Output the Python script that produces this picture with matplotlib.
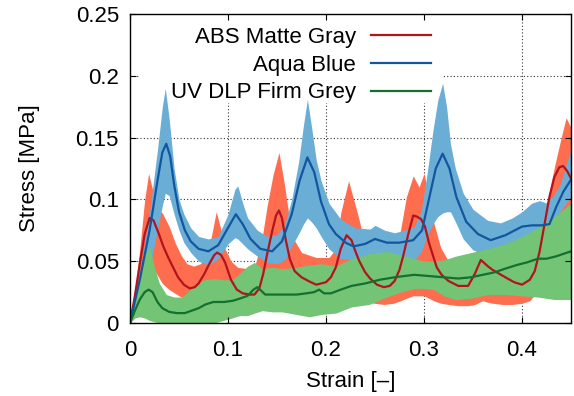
import numpy as np
import matplotlib.pyplot as plt
from matplotlib.patches import Rectangle

plt.rcParams['font.family'] = ['Liberation Sans', 'DejaVu Sans']

# ---- ABS Matte Gray (red) ----
abs_x = [0, 0.005, 0.01, 0.015, 0.02, 0.024, 0.029, 0.034, 0.039, 0.044, 0.049, 0.055,
         0.061, 0.066, 0.07, 0.076, 0.081, 0.086, 0.089, 0.093, 0.097, 0.103, 0.109,
         0.115, 0.122, 0.127, 0.132, 0.136, 0.14, 0.145, 0.149, 0.152, 0.155, 0.159,
         0.163, 0.168, 0.175, 0.182, 0.19, 0.2, 0.205, 0.21, 0.215, 0.221, 0.226, 0.23,
         0.234, 0.24, 0.245, 0.252, 0.259, 0.265, 0.27, 0.275, 0.279, 0.284, 0.289,
         0.293, 0.297, 0.301, 0.305, 0.309, 0.313, 0.318, 0.325, 0.335, 0.345, 0.352,
         0.358, 0.365, 0.37, 0.383, 0.392, 0.4, 0.408, 0.413, 0.418, 0.423, 0.428,
         0.433, 0.438, 0.442, 0.446, 0.45]
abs_mean = [0, 0.022, 0.048, 0.072, 0.085, 0.083, 0.073, 0.062, 0.053, 0.045, 0.037, 0.031,
            0.028, 0.029, 0.032, 0.04, 0.048, 0.055, 0.057, 0.055, 0.049, 0.035, 0.027,
            0.024, 0.023, 0.023, 0.028, 0.04, 0.056, 0.074, 0.087, 0.091, 0.085, 0.067,
            0.052, 0.042, 0.037, 0.034, 0.031, 0.033, 0.037, 0.045, 0.06, 0.071, 0.067, 0.058,
            0.05, 0.041, 0.036, 0.031, 0.029, 0.03, 0.034, 0.043, 0.055, 0.072, 0.087,
            0.086, 0.084, 0.078, 0.065, 0.055, 0.045, 0.039, 0.034, 0.03, 0.03, 0.04,
            0.051, 0.046, 0.043, 0.037, 0.033, 0.031, 0.035, 0.042, 0.058, 0.08, 0.102,
            0.118, 0.126, 0.127, 0.123, 0.117]
abs_bx = [0, 0.005, 0.01, 0.015, 0.019, 0.023, 0.027, 0.033, 0.04, 0.046, 0.052, 0.058,
          0.065, 0.072, 0.078, 0.083, 0.088, 0.092, 0.097, 0.103, 0.11, 0.12, 0.128,
          0.134, 0.14, 0.146, 0.152, 0.157, 0.162, 0.167, 0.175, 0.19, 0.203, 0.21,
          0.215, 0.223, 0.232, 0.239, 0.249, 0.259, 0.269, 0.276, 0.282, 0.289, 0.295,
          0.3, 0.305, 0.31, 0.317, 0.325, 0.335, 0.345, 0.352, 0.357, 0.36, 0.364, 0.37,
          0.38, 0.39, 0.4, 0.408, 0.415, 0.42, 0.426, 0.433, 0.44, 0.445, 0.45]
abs_lo = [0, 0.008, 0.02, 0.035, 0.045, 0.045, 0.04, 0.032, 0.027, 0.024, 0.021, 0.02,
          0.02, 0.02, 0.022, 0.025, 0.027, 0.026, 0.022, 0.018, 0.015, 0.014, 0.015,
          0.018, 0.022, 0.027, 0.03, 0.027, 0.022, 0.019, 0.017, 0.015, 0.016, 0.018,
          0.02, 0.022, 0.02, 0.018, 0.016, 0.015, 0.016, 0.018, 0.02, 0.022, 0.022,
          0.022, 0.02, 0.018, 0.016, 0.015, 0.014, 0.014, 0.015, 0.017, 0.018, 0.017, 0.016,
          0.015, 0.015, 0.016, 0.018, 0.025, 0.035, 0.05, 0.07, 0.085, 0.09, 0.09]
abs_hi = [0, 0.025, 0.06, 0.1, 0.121, 0.108, 0.093, 0.089, 0.078, 0.065, 0.055, 0.048,
          0.046, 0.048, 0.055, 0.07, 0.09, 0.078, 0.06, 0.05, 0.045, 0.044, 0.048,
          0.065, 0.095, 0.12, 0.138, 0.115, 0.088, 0.068, 0.057, 0.053, 0.053, 0.06,
          0.089, 0.115, 0.089, 0.067, 0.051, 0.048, 0.053, 0.075, 0.102, 0.119, 0.11,
          0.121, 0.102, 0.081, 0.061, 0.05, 0.045, 0.045, 0.055, 0.075, 0.086, 0.075, 0.06,
          0.053, 0.05, 0.05, 0.055, 0.075, 0.09, 0.099, 0.126, 0.15, 0.166, 0.158]

# ---- Aqua Blue (blue) ----
aqua_x = [0, 0.01, 0.02, 0.028, 0.033, 0.037, 0.041, 0.045, 0.05, 0.056, 0.062, 0.07,
          0.08, 0.09, 0.1, 0.108, 0.115, 0.123, 0.133, 0.145, 0.155, 0.165, 0.173,
          0.181, 0.188, 0.195, 0.203, 0.21, 0.22, 0.228, 0.24, 0.25, 0.262, 0.275,
          0.289, 0.298, 0.305, 0.312, 0.319, 0.326, 0.333, 0.343, 0.355, 0.368, 0.383,
          0.4, 0.41, 0.42, 0.428, 0.435, 0.442, 0.45]
aqua_mean = [0, 0.035, 0.075, 0.115, 0.138, 0.145, 0.135, 0.112, 0.09, 0.075, 0.066, 0.06,
             0.058, 0.063, 0.077, 0.088, 0.08, 0.068, 0.06, 0.058, 0.066, 0.088, 0.115,
             0.134, 0.122, 0.098, 0.08, 0.072, 0.065, 0.062, 0.064, 0.068, 0.065, 0.065,
             0.067, 0.075, 0.1, 0.125, 0.137, 0.125, 0.102, 0.082, 0.072, 0.067, 0.071,
             0.078, 0.079, 0.079, 0.08, 0.094, 0.106, 0.116]
aqua_bx = [0, 0.01, 0.02, 0.028, 0.033, 0.036, 0.04, 0.045, 0.05, 0.055, 0.062, 0.07,
           0.08, 0.09, 0.1, 0.107, 0.11, 0.115, 0.12, 0.13, 0.14, 0.15, 0.158, 0.165,
           0.172, 0.177, 0.181, 0.185, 0.19, 0.195, 0.203, 0.215, 0.23, 0.245, 0.25,
           0.26, 0.27, 0.28, 0.29, 0.297, 0.303, 0.309, 0.314, 0.319, 0.323, 0.327,
           0.332, 0.34, 0.35, 0.365, 0.378, 0.39, 0.4, 0.41, 0.418, 0.425, 0.432, 0.439,
           0.445, 0.45]
aqua_lo = [0, 0.015, 0.045, 0.075, 0.095, 0.105, 0.103, 0.088, 0.075, 0.065, 0.057, 0.05,
           0.047, 0.052, 0.064, 0.069, 0.068, 0.064, 0.06, 0.054, 0.049, 0.048, 0.051, 0.062,
           0.072, 0.08, 0.085, 0.082, 0.077, 0.07, 0.06, 0.052, 0.051, 0.052, 0.053,
           0.053, 0.053, 0.052, 0.051, 0.057, 0.07, 0.08, 0.086, 0.089, 0.09, 0.09,
           0.082, 0.068, 0.059, 0.056, 0.056, 0.058, 0.062, 0.065, 0.068, 0.072, 0.08, 0.09,
           0.097, 0.102]
aqua_hi = [0, 0.04, 0.09, 0.14, 0.175, 0.19, 0.165, 0.125, 0.1, 0.088, 0.077, 0.07,
           0.068, 0.07, 0.088, 0.108, 0.111, 0.097, 0.085, 0.075, 0.07, 0.071, 0.08, 0.1,
           0.13, 0.16, 0.181, 0.16, 0.132, 0.115, 0.097, 0.084, 0.077, 0.076, 0.079,
           0.075, 0.073, 0.075, 0.078, 0.09, 0.12, 0.155, 0.18, 0.194, 0.175, 0.145,
           0.125, 0.105, 0.092, 0.083, 0.081, 0.085, 0.09, 0.097, 0.099, 0.097, 0.103, 0.112,
           0.128, 0.14]

# ---- UV DLP Firm Grey (green) ----
uv_x = [0, 0.005, 0.01, 0.015, 0.019, 0.023, 0.028, 0.033, 0.04, 0.048, 0.056, 0.063,
        0.07, 0.077, 0.085, 0.096, 0.105, 0.113, 0.12, 0.126, 0.13, 0.134, 0.138,
        0.147, 0.16, 0.17, 0.18, 0.188, 0.193, 0.198, 0.205, 0.215, 0.226, 0.24, 0.255,
        0.27, 0.29, 0.305, 0.32, 0.335, 0.348, 0.36, 0.372, 0.383, 0.395, 0.405, 0.416,
        0.425, 0.435, 0.45]
uv_mean = [0, 0.01, 0.019, 0.025, 0.027, 0.025, 0.017, 0.012, 0.009, 0.008, 0.008, 0.01,
           0.012, 0.015, 0.017, 0.017, 0.018, 0.02, 0.022, 0.027, 0.029, 0.026, 0.023,
           0.023, 0.023, 0.023, 0.024, 0.025, 0.027, 0.024, 0.024, 0.027, 0.03, 0.032, 0.035,
           0.037, 0.039, 0.038, 0.037, 0.036, 0.037, 0.039, 0.041, 0.044, 0.047, 0.049, 0.052,
           0.052, 0.054, 0.058]
uv_bx = [0, 0.005, 0.01, 0.015, 0.02, 0.025, 0.03, 0.037, 0.045, 0.053, 0.06, 0.068,
         0.076, 0.086, 0.095, 0.104, 0.112, 0.12, 0.127, 0.135, 0.145, 0.155, 0.169,
         0.183, 0.196, 0.21, 0.226, 0.244, 0.262, 0.276, 0.29, 0.3, 0.31, 0.32, 0.332,
         0.348, 0.365, 0.383, 0.4, 0.416, 0.433, 0.45]
uv_lo = [0, 0.004, 0.005, 0.004, 0.002, 0.001, 0, 0, 0, 0, 0, 0,
         0, 0, 0.002, 0.004, 0.006, 0.006, 0.008, 0.01, 0.009, 0.009, 0.007,
         0.005, 0.007, 0.008, 0.013, 0.015, 0.021, 0.025, 0.028, 0.028, 0.027, 0.022, 0.019,
         0.02, 0.023, 0.023, 0.022, 0.021, 0.019, 0.019]
uv_hi = [0, 0.02, 0.04, 0.055, 0.062, 0.045, 0.032, 0.023, 0.021, 0.021, 0.026, 0.032,
         0.035, 0.036, 0.035, 0.035, 0.04, 0.046, 0.049, 0.044, 0.045, 0.044, 0.045,
         0.047, 0.048, 0.046, 0.052, 0.056, 0.058, 0.055, 0.052, 0.05, 0.05, 0.051, 0.054,
         0.057, 0.06, 0.064, 0.07, 0.077, 0.086, 0.097]

labels = ['ABS Matte Gray', 'Aqua Blue', 'UV DLP Firm Grey']
x_ticks = [0, 0.1, 0.2, 0.3, 0.4]
y_ticks = [0, 0.05, 0.1, 0.15, 0.2, 0.25]

fig = plt.figure(figsize=(5.74, 3.96), dpi=100)
ax = fig.add_axes([130 / 574, 73 / 396, 441 / 574, 309 / 396])

# dotted grid behind everything
for xv in x_ticks[1:]:
    ax.axvline(xv, color='#333333', lw=0.8, ls=(0, (1, 2)), zorder=0.3)
for yv in y_ticks[1:-1]:
    ax.axhline(yv, color='#333333', lw=0.8, ls=(0, (1, 2)), zorder=0.3)
# opaque key box
ax.add_patch(Rectangle((0.023, 0.712), 0.687, 0.288, transform=ax.transAxes,
                       facecolor='white', edgecolor='none', zorder=0.6))

ax.fill_between(abs_bx, abs_lo, abs_hi, color='#fd6d4e', lw=0, zorder=1)
ax.fill_between(aqua_bx, aqua_lo, aqua_hi, color='#6aaed6', lw=0, zorder=1.1)
ax.fill_between(uv_bx, uv_lo, uv_hi, color='#74c476', lw=0, zorder=1.2)

ax.plot(abs_x, abs_mean, color='#b2141e', lw=1.6, label=labels[0], zorder=2)
ax.plot(aqua_x, aqua_mean, color='#1256a0', lw=1.6, label=labels[1], zorder=2.1)
ax.plot(uv_x, uv_mean, color='#14702e', lw=1.6, label=labels[2], zorder=2.2)

ax.set_xlim(0, 0.45)
ax.set_ylim(0, 0.25)
ax.set_xticks(x_ticks)
ax.set_xticklabels(['0', '0.1', '0.2', '0.3', '0.4'])
ax.set_yticks(y_ticks)
ax.set_yticklabels(['0', '0.05', '0.1', '0.15', '0.2', '0.25'])
ax.tick_params(direction='in', length=4.5, width=0.8, top=True, right=True,
               labelsize=16)
ax.tick_params(axis='x', pad=12)
ax.tick_params(axis='y', pad=8)
for s in ax.spines.values():
    s.set_linewidth(1.0)

ax.set_xlabel('Strain [–]', fontsize=16)
ax.xaxis.set_label_coords(0.5, -0.155)
ax.set_ylabel('Stress [MPa]', fontsize=16)
ax.yaxis.set_label_coords(-0.205, 0.5)

ax.legend(loc='upper right', bbox_to_anchor=(0.683, 0.958), frameon=False,
          markerfirst=False, fontsize=16, handlelength=2.7, handletextpad=0.7,
          labelspacing=0.3, borderpad=0, borderaxespad=0)

fig.savefig('out.png', dpi=100)
